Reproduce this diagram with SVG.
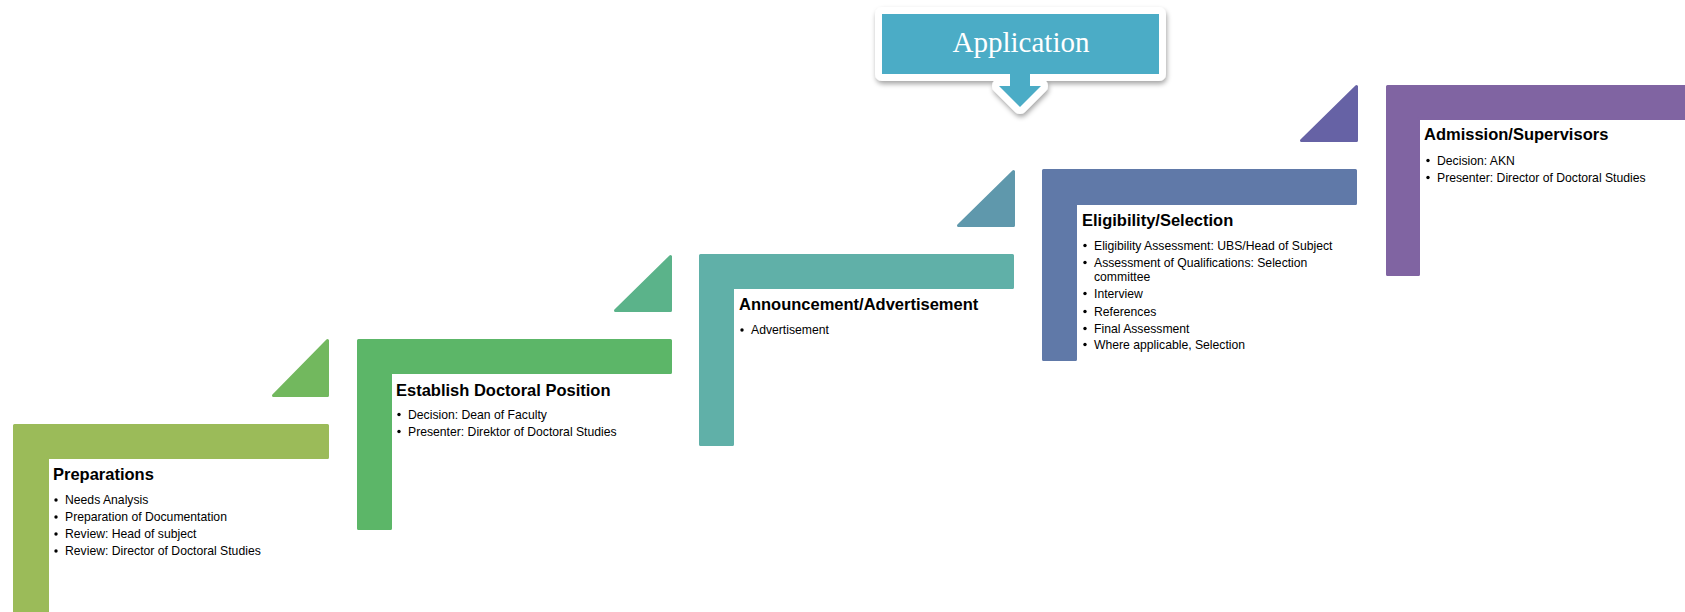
<svg xmlns="http://www.w3.org/2000/svg" width="1685" height="612" viewBox="0 0 1685 612">
<defs>
<filter id="sh" x="-10%" y="-20%" width="120%" height="150%">
<feDropShadow dx="1" dy="3" stdDeviation="2.5" flood-color="#000" flood-opacity="0.35"/>
</filter>
</defs>
<style>
.shape{stroke-width:3;stroke-linejoin:round}
.title{font-family:"Liberation Sans",Arial,sans-serif;font-weight:bold;font-size:16.5px;fill:#000}
.item{font-family:"Liberation Sans",Arial,sans-serif;font-size:12.2px;fill:#000}
.dot{fill:#000}
.app{font-family:"Liberation Serif","Times New Roman",serif;font-size:29px;fill:#fff}
</style>
<rect width="1685" height="612" fill="#fff"/>

<g id="connectors">
<polygon class="shape" points="327.5,340.5 327.5,395.5 273.5,395.5" fill="#72B85E" stroke="#72B85E"/>
<polygon class="shape" points="670.5,256.5 670.5,310.5 615.5,310.5" fill="#5BB38A" stroke="#5BB38A"/>
<polygon class="shape" points="1013.5,171.5 1013.5,225.5 958.5,225.5" fill="#5F98AC" stroke="#5F98AC"/>
<polygon class="shape" points="1356.5,86.5 1356.5,140.5 1301.5,140.5" fill="#6662A5" stroke="#6662A5"/>
</g>

<g id="preparations">
<path class="shape" d="M14.5,425.5 H327.5 V457.5 H47.5 V620 H14.5 Z" fill="#9BBB59" stroke="#9BBB59"/>
<text class="title" x="53" y="480">Preparations</text>
<circle class="dot" cx="56" cy="500" r="1.7"/><text class="item" x="65" y="504">Needs Analysis</text>
<circle class="dot" cx="56" cy="517" r="1.7"/><text class="item" x="65" y="521">Preparation of Documentation</text>
<circle class="dot" cx="56" cy="534" r="1.7"/><text class="item" x="65" y="538">Review: Head of subject</text>
<circle class="dot" cx="56" cy="551" r="1.7"/><text class="item" x="65" y="555">Review: Director of Doctoral Studies</text>
</g>

<g id="establish">
<path class="shape" d="M358.5,340.5 H670.5 V372.5 H390.5 V528.5 H358.5 Z" fill="#5CB668" stroke="#5CB668"/>
<text class="title" x="396" y="395.5">Establish Doctoral Position</text>
<circle class="dot" cx="399" cy="414.5" r="1.7"/><text class="item" x="408" y="418.5">Decision: Dean of Faculty</text>
<circle class="dot" cx="399" cy="431.5" r="1.7"/><text class="item" x="408" y="435.5">Presenter: Direktor of Doctoral Studies</text>
</g>

<g id="announcement">
<path class="shape" d="M700.5,255.5 H1012.5 V287.5 H732.5 V444.5 H700.5 Z" fill="#60B0A8" stroke="#60B0A8"/>
<text class="title" x="739" y="310">Announcement/Advertisement</text>
<circle class="dot" cx="742" cy="330" r="1.7"/><text class="item" x="751" y="334">Advertisement</text>
</g>

<g id="eligibility">
<path class="shape" d="M1043.5,170.5 H1355.5 V203.5 H1075.5 V359.5 H1043.5 Z" fill="#6079A8" stroke="#6079A8"/>
<text class="title" x="1082" y="225.5">Eligibility/Selection</text>
<circle class="dot" cx="1085" cy="245.5" r="1.7"/><text class="item" x="1094" y="249.5">Eligibility Assessment: UBS/Head of Subject</text>
<circle class="dot" cx="1085" cy="262.5" r="1.7"/><text class="item" x="1094" y="266.5">Assessment of Qualifications: Selection</text>
<text class="item" x="1094" y="280.5">committee</text>
<circle class="dot" cx="1085" cy="293.5" r="1.7"/><text class="item" x="1094" y="297.5">Interview</text>
<circle class="dot" cx="1085" cy="311.5" r="1.7"/><text class="item" x="1094" y="315.5">References</text>
<circle class="dot" cx="1085" cy="328.5" r="1.7"/><text class="item" x="1094" y="332.5">Final Assessment</text>
<circle class="dot" cx="1085" cy="344.5" r="1.7"/><text class="item" x="1094" y="348.5">Where applicable, Selection</text>
</g>

<g id="admission">
<path class="shape" d="M1387.5,86.5 H1700 V118.5 H1418.5 V274.5 H1387.5 Z" fill="#8064A2" stroke="#8064A2"/>
<text class="title" x="1424" y="140">Admission/Supervisors</text>
<circle class="dot" cx="1428" cy="160.5" r="1.7"/><text class="item" x="1437" y="164.5">Decision: AKN</text>
<circle class="dot" cx="1428" cy="177.5" r="1.7"/><text class="item" x="1437" y="181.5">Presenter: Director of Doctoral Studies</text>
</g>

<g id="application">
<path d="M882,14 H1159 V74 H1030 V86 H1041 L1020,107 L999,86 H1010 V74 H882 Z" fill="#fff" stroke="#fff" stroke-width="14" stroke-linejoin="round" filter="url(#sh)"/>
<path d="M882,14 H1159 V74 H1030 V86 H1041 L1020,107 L999,86 H1010 V74 H882 Z" fill="#4BACC6"/>
<text class="app" x="1021" y="52" text-anchor="middle">Application</text>
</g>
</svg>
